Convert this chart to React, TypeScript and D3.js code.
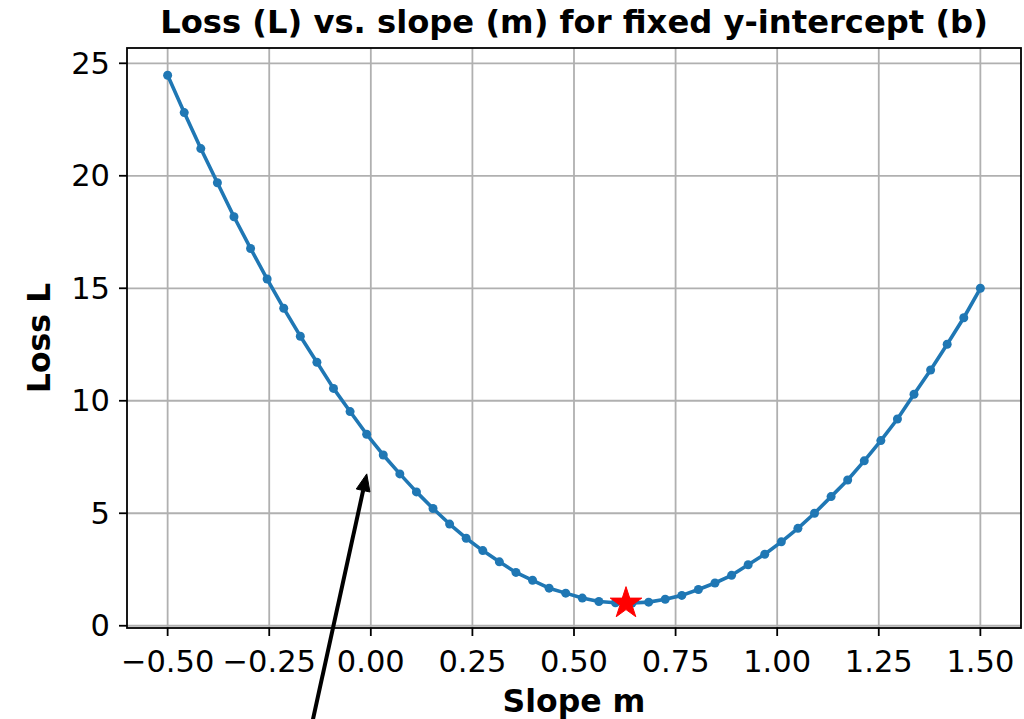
import React from "react";
import * as d3 from "d3";

// ---- data ----
const slopeStart = -0.5;
const slopeEnd = 1.5;
const lossValues: number[] = [
  24.47, 22.81, 21.21, 19.69, 18.18, 16.77, 15.41, 14.11, 12.87, 11.71,
  10.55, 9.52, 8.51, 7.59, 6.75, 5.95, 5.21, 4.52, 3.89, 3.34,
  2.84, 2.37, 2.02, 1.67, 1.45, 1.23, 1.08, 1.02, 1.01, 1.05,
  1.18, 1.35, 1.61, 1.90, 2.24, 2.71, 3.18, 3.73, 4.33, 5.0,
  5.74, 6.48, 7.33, 8.23, 9.19, 10.29, 11.37, 12.51, 13.69, 15.0,
];
const slopeValues: number[] = lossValues.map(
  (_, i) => slopeStart + (i * (slopeEnd - slopeStart)) / (lossValues.length - 1)
);
const bestSlope = 0.628;
const bestLoss = 1.0;
const xTicks = [-0.5, -0.25, 0, 0.25, 0.5, 0.75, 1.0, 1.25, 1.5];
const yTicks = [0, 5, 10, 15, 20, 25];
const xDomain: [number, number] = [-0.6, 1.6];
const yDomain: [number, number] = [-0.1, 25.68];
// annotation arrow (data coords): tip and tail
const arrowTip = { m: -0.01, L: 6.75 };
const arrowTail = { m: -0.155, L: -5.2 };

const titleText = "Loss (L) vs. slope (m) for fixed y-intercept (b)";
const xLabel = "Slope m";
const yLabel = "Loss L";

// ---- layout ----
const W = 1024;
const H = 719;
const left = 127;
const right = 1021;
const top = 48;
const bottom = 628;
const FONT = "DejaVu Sans, sans-serif";
const BLUE = "#1f77b4";

const fmt = (v: number) => {
  const s = v.toFixed(2);
  return s.startsWith("-") ? "\u2212" + s.slice(1) : s;
};

export default function App() {
  const x = d3.scaleLinear().domain(xDomain).range([left, right]);
  const y = d3.scaleLinear().domain(yDomain).range([bottom, top]);
  const pts = slopeValues.map((m, i) => [m, lossValues[i]] as [number, number]);
  const line = d3
    .line<[number, number]>()
    .x((d) => x(d[0]))
    .y((d) => y(d[1]))(pts);
  const star = d3.symbol().type(d3.symbolStar).size(310)();

  // arrow geometry
  const tx = x(arrowTip.m);
  const ty = y(arrowTip.L);
  const sx = x(arrowTail.m);
  const sy = y(arrowTail.L);
  const len = Math.hypot(tx - sx, ty - sy);
  const ux = (tx - sx) / len;
  const uy = (ty - sy) / len;
  const headLen = 17;
  const headHalf = 7;
  const bx = tx - ux * headLen;
  const by = ty - uy * headLen;
  const head = `M${tx},${ty}L${bx - uy * headHalf},${by + ux * headHalf}L${bx + uy * headHalf},${by - ux * headHalf}Z`;

  return (
    <svg
      width={W}
      height={H}
      style={{ position: "absolute", left: 0, top: 0, background: "#fff" }}
      fontFamily={FONT}
    >
      <rect x={0} y={0} width={W} height={H} fill="#fff" />
      {/* grid */}
      <g stroke="#b0b0b0" strokeWidth={1.8}>
        {xTicks.map((t) => (
          <line key={"gx" + t} x1={x(t)} x2={x(t)} y1={top} y2={bottom} />
        ))}
        {yTicks.map((t) => (
          <line key={"gy" + t} x1={left} x2={right} y1={y(t)} y2={y(t)} />
        ))}
      </g>
      {/* line + markers */}
      <path d={line || ""} fill="none" stroke={BLUE} strokeWidth={3.6} strokeLinejoin="round" />
      {pts.map((d, i) => (
        <circle key={i} cx={x(d[0])} cy={y(d[1])} r={4.5} fill={BLUE} />
      ))}
      <path d={star || ""} transform={`translate(${x(bestSlope)},${y(bestLoss)})`} fill="#ff0000" stroke="#ff0000" strokeWidth={1} />
      {/* spines */}
      <rect x={left} y={top} width={right - left} height={bottom - top} fill="none" stroke="#000" strokeWidth={1.8} />
      {/* ticks */}
      <g stroke="#000" strokeWidth={1.8}>
        {xTicks.map((t) => (
          <line key={"tx" + t} x1={x(t)} x2={x(t)} y1={bottom} y2={bottom + 8} />
        ))}
        {yTicks.map((t) => (
          <line key={"ty" + t} x1={left - 8} x2={left} y1={y(t)} y2={y(t)} />
        ))}
      </g>
      <g fontSize={30.5} fill="#000">
        {xTicks.map((t) => (
          <text key={"lx" + t} x={x(t)} y={672} textAnchor="middle">
            {fmt(t)}
          </text>
        ))}
        {yTicks.map((t) => (
          <text key={"ly" + t} x={110} y={y(t)} textAnchor="end" dominantBaseline="central">
            {String(t)}
          </text>
        ))}
      </g>
      {/* labels */}
      <text x={(left + right) / 2} y={33} textAnchor="middle" fontWeight="bold" fontSize={32.2}>
        {titleText}
      </text>
      <text x={(left + right) / 2} y={712} textAnchor="middle" fontWeight="bold" fontSize={31.5}>
        {xLabel}
      </text>
      <text
        transform={`translate(50,${(top + bottom) / 2}) rotate(-90)`}
        textAnchor="middle"
        fontWeight="bold"
        fontSize={31.5}
      >
        {yLabel}
      </text>
      {/* annotation arrow */}
      <line x1={sx} y1={sy} x2={bx} y2={by} stroke="#000" strokeWidth={4} />
      <path d={head} fill="#000" stroke="#000" strokeWidth={1} />
    </svg>
  );
}
